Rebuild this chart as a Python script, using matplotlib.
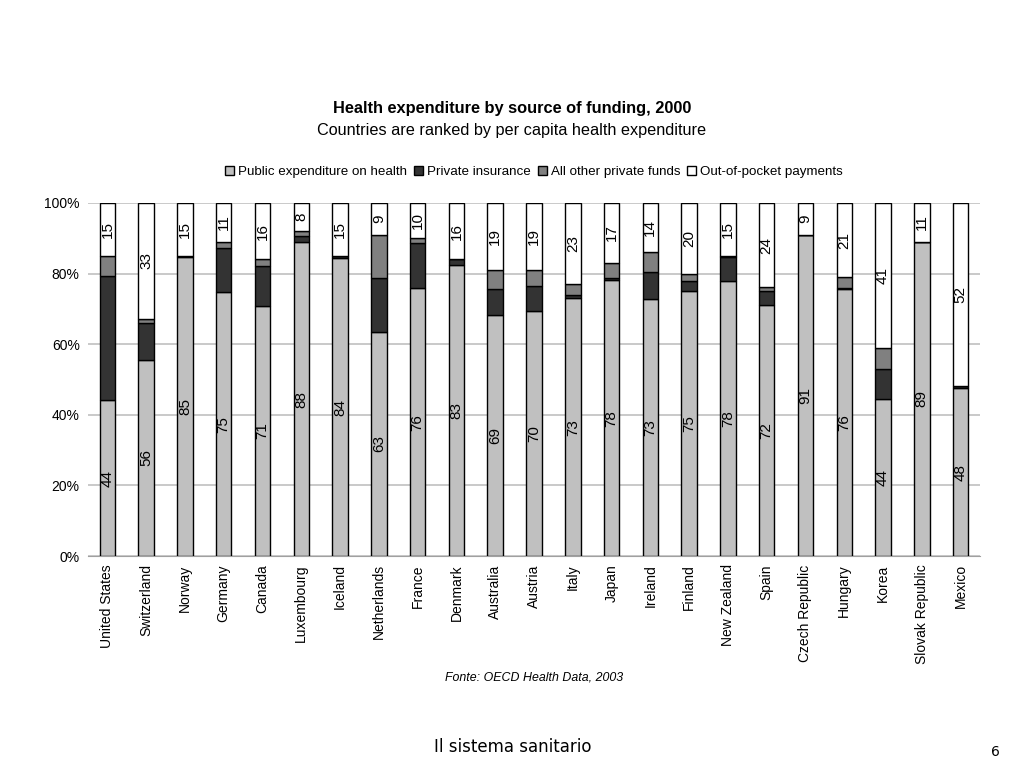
import numpy as np
import matplotlib.pyplot as plt

plt.rcParams['font.family'] = ['Liberation Sans', 'DejaVu Sans']

# Data (shares of total health expenditure, %)
countries = ['United States', 'Switzerland', 'Norway', 'Germany', 'Canada',
             'Luxembourg', 'Iceland', 'Netherlands', 'France', 'Denmark',
             'Australia', 'Austria', 'Italy', 'Japan', 'Ireland', 'Finland',
             'New Zealand', 'Spain', 'Czech Republic', 'Hungary', 'Korea',
             'Slovak Republic', 'Mexico']
public = [44, 56, 85, 75, 71, 88.4, 84, 63.3, 75.5, 82.6, 68.6, 69.5, 73.1,
          78.1, 73, 74.8, 77.6, 71.5, 91, 75.5, 44.2, 89, 47.6]
insurance = [35, 10.5, 0.3, 12.5, 11.3, 1.7, 0.6, 15.2, 12.8, 1.6, 7.4, 7.2,
             1.1, 0.6, 7.7, 2.7, 6.7, 4, 0, 0.5, 8.7, 0, 0.6]
other = [5.7, 1.2, 0, 1.9, 1.9, 1.4, 0, 12.2, 1.2, 0, 5.4, 4.5, 3, 4.3, 5.7,
         2, 0.2, 0.9, 0, 3, 5.7, 0, 0]
oop = [15, 33, 15, 11, 16, 8, 15, 9, 10, 16, 19, 19, 23, 17, 14, 20, 15, 24,
       9, 21, 41, 11, 52]
series_names = ['Public expenditure on health', 'Private insurance',
                'All other private funds', 'Out-of-pocket payments']

colors = ['#c0c0c0', '#333333', '#808080', '#ffffff']

fig = plt.figure(figsize=(10.24, 7.68), dpi=100)
ax = fig.add_axes([88 / 1024, 1 - 556 / 768, (980 - 88) / 1024, (556 - 203) / 768])

x = np.arange(len(countries))
vals = [np.array(public), np.array(insurance), np.array(other), np.array(oop)]
# normalise to 100
total = sum(vals)
vals = [v / total * 100 for v in vals]

bottom = np.zeros(len(countries))
bars = []
for v, c, name in zip(vals, colors, series_names):
    ax.bar(x, v, 0.4, bottom=bottom, color=c, edgecolor='black',
           linewidth=1.0, label=name, zorder=3)
    bars.append((v, bottom.copy()))
    bottom += v

# labels for public and out-of-pocket
for i in x:
    v, b = bars[0]
    ax.text(i, b[i] + v[i] / 2, f'{round(public[i])}', rotation=90,
            ha='center', va='center', fontsize=11, zorder=4)
    v, b = bars[3]
    ax.text(i, b[i] + v[i] / 2, f'{round(oop[i])}', rotation=90,
            ha='center', va='center', fontsize=11, zorder=4)

ax.set_xlim(-0.5, len(countries) - 0.5)
ax.set_ylim(0, 100)
ax.set_yticks([0, 20, 40, 60, 80, 100])
ax.set_yticklabels(['0%', '20%', '40%', '60%', '80%', '100%'], fontsize=10)
ax.set_xticks(x)
ax.set_xticklabels(countries, rotation=90, fontsize=10)
ax.tick_params(axis='both', length=0, pad=6)
ax.yaxis.grid(True, color='#c0c0c0', linewidth=1.2, zorder=0)
for s in ['top', 'right', 'left']:
    ax.spines[s].set_visible(False)
ax.spines['bottom'].set_color('#a0a0a0')

ax.legend(loc='lower center', bbox_to_anchor=(0.5, 1.055), ncol=4,
          frameon=False, fontsize=9.6, handlelength=0.7, handleheight=0.7,
          handletextpad=0.3, columnspacing=0.5, borderaxespad=0)

fig.text(0.5, 1 - 108 / 768, 'Health expenditure by source of funding, 2000',
         ha='center', va='center', fontsize=11.8, fontweight='bold')
fig.text(0.5, 1 - 130 / 768, 'Countries are ranked by per capita health expenditure',
         ha='center', va='center', fontsize=11.7)
fig.text(534 / 1024, 1 - 678 / 768, 'Fonte: OECD Health Data, 2003',
         ha='center', va='center', fontsize=8.9, style='italic')
fig.text(513 / 1024, 1 - 747 / 768, 'Il sistema sanitario',
         ha='center', va='center', fontsize=12, family='DejaVu Sans')
fig.text(995 / 1024, 1 - 752 / 768, '6', ha='center', va='center',
         fontsize=10, family='DejaVu Sans')

fig.savefig('out.png', dpi=100)
